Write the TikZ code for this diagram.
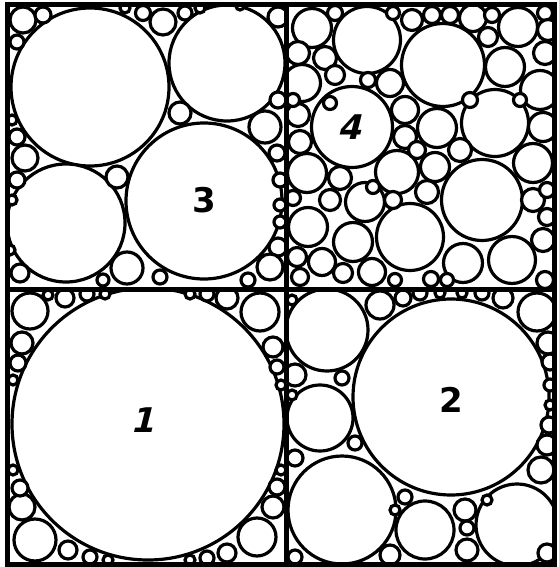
\documentclass[tikz,border=0pt]{standalone}
\usepackage{fontspec}
\setsansfont{DejaVu Sans}
\begin{document}
\begin{tikzpicture}[x=1pt,y=-1pt,
  ball/.style={line width=3.2pt},
  frame/.style={line width=5pt},
  lbl/.style={font=\sffamily\bfseries\fontsize{34}{34}\selectfont}]
\useasboundingbox (0,0) rectangle (558,567);
\fill[white] (0,0) rectangle (558,567);
% quadrant 3 (top-left)
\begin{scope}
\clip (7,5) rectangle (286,289);
\foreach \x/\y/\r in {90/87/78, 227/63/57, 204/201/77, 66/223/58,
  23/20/12, 43/15/7, 17/42/6, 143/13/6.5, 163/22/12, 185/13/6, 278/17/9,
  278/100/7, 265/127/15, 277/153/7, 180/113/10,
  17/137/7, 25/158/12, 17/180/7, 117/177/10,
  127/268/15, 160/277/6, 103/280/5, 20/273/8,
  278/247/8, 270/267/12, 248/280/6, 280/180/6, 280/205/5, 280/222/5,
  12/120/4, 12/200/4, 10/250/4, 125/8/4, 200/8/4, 240/6/3}
  \draw[ball,fill=white] (\x,\y) circle[radius={\r pt+1pt}];
\end{scope}
% quadrant 4 (top-right)
\begin{scope}
\clip (286,5) rectangle (554,289);
\foreach \x/\y/\r in {312/28/18, 367/40/32, 443/65/40, 518/27/18, 505/67/18,
  540/90/18, 302/83/17, 298/53/10, 325/58/10, 335/75/8, 352/127/39,
  390/83/12, 405/110/12, 437/128/18, 495/123/32, 543/127/13, 533/163/18,
  482/200/39, 298/115/10, 300/142/10, 307/173/18, 397/172/20, 435/167/13,
  405/137/10, 417/150/7, 460/150/10, 365/202/18, 340/178/10, 330/200/9,
  308/227/18, 410/237/32, 353/242/18, 427/192/10, 393/200/7, 463/263/18,
  512/260/22, 543/240/10, 533/200/10, 547/190/6, 322/262/12, 372/272/12,
  297/257/8, 300/277/7, 343/273/8, 335/13/6, 412/20/9, 432/15/7, 450/15/7,
  473/18/12, 492/15/6, 545/13/6, 548/30/9, 488/37/8, 545/53/10, 393/13/5,
  368/80/6, 293/198/6, 373/187/5, 545/280/7, 431/279/6, 547/217/7,
  293/100/5, 470/100/6, 520/100/5, 447/280/5, 395/280/5, 330/103/5}
  \draw[ball,fill=white] (\x,\y) circle[radius={\r pt+1.5pt}];
\end{scope}
% quadrant 1 (bottom-left)
\begin{scope}
\clip (7,289) rectangle (286,564);
\foreach \x/\y/\r in {148/424/135,
  30/311/17, 65/298/8, 87/294/6, 22/343/10, 18/363/7,
  260/312/18, 227/298/10, 207/294/6, 273/347/9, 277/367/6,
  35/540/20, 22/507/12, 20/488/7, 68/550/8, 90/557/6,
  257/537/18, 273/507/10, 277/487/7, 227/553/8, 207/558/6,
  48/295/4, 105/294/4, 190/294/4, 13/380/4, 281/385/4, 13/470/4, 281/470/4,
  108/560/4, 190/560/4}
  \draw[ball,fill=white] (\x,\y) circle[radius={\r pt+1pt}];
\end{scope}
% quadrant 2 (bottom-right)
\begin{scope}
\clip (286,289) rectangle (554,564);
\foreach \x/\y/\r in {451/397/97, 327/330/40, 320/418/32, 342/510/53,
  425/530/28, 517/525/40, 380/305/13, 403/298/7, 420/293/6,
  482/293/6, 503/298/9, 537/312/18, 548/343/10, 550/362/7,
  295/375/10, 342/378/6, 295/458/7, 355/443/6,
  549/425/7, 547/445/9, 541/470/12, 405/497/6, 465/510/10, 467/528/6,
  467/550/10, 295/557/6, 390/555/9, 547/553/8, 440/293/4, 462/293/4,
  292/300/4, 292/395/4, 550/385/5, 550/405/4, 395/510/4, 487/500/4}
  \draw[ball,fill=white] (\x,\y) circle[radius={\r pt+1pt}];
\end{scope}
% frame and dividers
\draw[frame] (7,5) rectangle (554,564);
\draw[frame] (286,5) -- (286,564);
\draw[frame] (7,289) -- (554,289);
% labels
\node[lbl] (n3) at (204,200) {3};
\node[lbl,xslant=0.25] (n4) at (352,127) {4};
\node[lbl,xslant=0.25] (n1) at (145,420) {1};
\node[lbl] (n2) at (451,400) {2};
\end{tikzpicture}
\end{document}
